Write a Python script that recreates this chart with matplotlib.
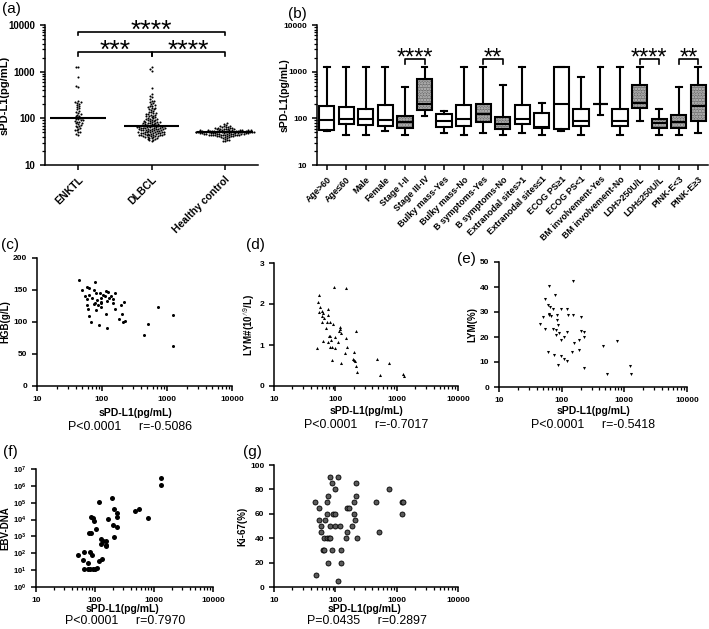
import numpy as np
import pandas as pd
import matplotlib
matplotlib.use("Agg")
import matplotlib.pyplot as plt
import matplotlib.transforms as mtransforms
from matplotlib.patches import PathPatch
from matplotlib.ticker import LogLocator, NullFormatter, FixedLocator, FixedFormatter
import seaborn as sns

plt.rcParams['font.family'] = ['Liberation Sans', 'DejaVu Sans']
plt.rcParams['mathtext.fontset'] = 'custom'
plt.rcParams['mathtext.rm'] = 'Liberation Sans'
plt.rcParams['mathtext.bf'] = 'Liberation Sans:bold'
plt.rcParams['axes.linewidth'] = 1.1
plt.rcParams['hatch.linewidth'] = 1.2

# ===== DATA =====
# (a) sPD-L1 by group
groups_a = ["ENKTL", "DLBCL", "Healthy control"]
enktl = [1280, 1230, 750, 500, 470, 235, 225, 220, 215, 205, 195, 185, 175, 165, 155, 145,
         140, 132, 125, 120, 115, 110, 106, 102, 100, 98, 95, 92, 90, 88, 85, 83, 80, 78,
         76, 73, 70, 68, 65, 62, 60, 57, 55, 52, 50, 47, 45]
dlbcl = [1250, 1150, 1050, 440, 330, 300, 280, 260, 240, 230, 220, 210, 200, 190, 185, 180,
         175, 170, 165, 160, 155, 150, 145, 140, 135, 130, 128, 125, 122, 120, 118, 115, 112,
         110, 108, 105, 103, 100, 98, 96, 95, 93, 92, 90, 88, 87, 86, 85, 84, 83, 82, 81, 80,
         79, 78, 77, 76, 75, 74, 73, 72, 71, 70, 70, 69, 68, 68, 67, 67, 66, 66, 65, 65, 64,
         64, 63, 63, 62, 62, 61, 61, 60, 60, 59, 59, 58, 58, 57, 57, 56, 56, 55, 55, 54, 54,
         53, 53, 52, 52, 51, 51, 50, 50, 50, 49, 49, 48, 48, 48, 47, 47, 46, 46, 46, 45, 45,
         44, 44, 44, 43, 43, 42, 42, 42, 41, 40, 40, 39, 38, 38, 37, 36, 36, 35, 34, 33]
healthy = [78, 75, 72, 70, 68, 67, 66, 65, 64, 63, 62, 62, 61, 60, 60, 59, 59, 58, 58, 57, 57,
           57, 56, 56, 56, 55, 55, 55, 55, 54, 54, 54, 54, 53, 53, 53, 53, 53, 52, 52, 52, 52,
           52, 51, 51, 51, 51, 51, 51, 50, 50, 50, 50, 50, 50, 50, 49, 49, 49, 49, 49, 49, 48,
           48, 48, 48, 48, 47, 47, 47, 47, 47, 46, 46, 46, 46, 45, 45, 45, 45, 44, 44, 44, 44,
           43, 43, 43, 42, 42, 42, 41, 41, 40, 40, 39, 38, 37, 36, 35, 34, 33, 32]

# (b) box plot summary per clinical feature
b_labels = ["Age>60", "Age≤60", "Male", "Female", "Stage I-II", "Stage III-IV",
            "Bulky mass-Yes", "Bulky mass-No", "B symptoms-Yes", "B symptoms-No",
            "Extranodal sites>1", "Extranodal sites≤1", "ECOG PS≥1", "ECOG PS<1",
            "BM involvement-Yes", "BM involvement-No", "LDH>250U/L", "LDH≤250U/L",
            "PINK-E<3", "PINK-E≥3"]
b_max = [1280, 1250, 1250, 1280, 470, 1280, 145, 1280, 1280, 530, 1280, 210, 1280, 750, 1280, 1250, 1280, 155, 470, 1280]
b_q3 = [180, 172, 160, 195, 115, 690, 122, 190, 200, 108, 195, 130, 1230, 155, 200, 155, 520, 97, 120, 530]
b_med = [94, 97, 96, 90, 83, 205, 87, 96, 125, 76, 96, 66, 205, 88, 200, 88, 210, 78, 84, 185]
b_q1 = [56, 74, 72, 70, 63, 150, 65, 70, 82, 60, 75, 62, 58, 70, 200, 70, 165, 62, 63, 86]
b_min = [54, 45, 45, 54, 45, 110, 48, 45, 48, 45, 48, 45, 54, 45, 118, 45, 87, 45, 45, 48]
b_shaded = [4, 5, 8, 9, 16, 17, 18, 19]
b_sig = [(4, 5, "****"), (8, 9, "**"), (16, 17, "****"), (18, 19, "**")]

# (c) HGB
c_x = [45, 50, 59, 64, 77, 76, 81, 92, 98, 105, 115, 125, 140, 160, 55, 62, 70, 85, 95, 110,
       130, 150, 58, 59, 60, 63, 68, 77, 81, 90, 97, 97, 117, 119, 148, 156, 182, 198, 205,
       210, 217, 223, 443, 510, 725, 1220, 1230, 75, 88, 120]
c_y = [166, 150, 155, 153, 162, 150, 145, 145, 138, 142, 148, 147, 140, 146, 140, 142, 138,
       135, 130, 140, 138, 130, 136, 126, 120, 110, 100, 130, 118, 95, 131, 123, 113, 91, 136,
       121, 105, 126, 113, 100, 131, 101, 80, 97, 123, 111, 62, 128, 127, 133]

# (d) LYM#
d_x = [53, 56, 55, 60, 64, 60, 66, 60, 73, 77, 75, 81, 92, 70, 82, 80, 85, 75, 62, 50, 82, 88,
       100, 100, 109, 113, 121, 125, 121, 150, 155, 146, 88, 124, 200, 195, 205, 213, 220, 220,
       228, 474, 537, 755, 1260, 1300, 55, 95, 150]
d_y = [2.04, 1.92, 1.8, 1.82, 1.78, 1.7, 1.65, 1.56, 1.56, 1.87, 1.72, 1.56, 1.52, 1.42, 1.22,
       1.22, 1.13, 1.07, 1.09, 0.92, 0.95, 0.95, 0.92, 1.2, 1.08, 1.35, 1.4, 1.29, 1.44, 1.16,
       0.96, 0.8, 0.63, 0.57, 0.84, 0.65, 0.63, 0.6, 1.34, 0.48, 0.33, 0.65, 0.28, 0.55, 0.3,
       0.24, 2.22, 2.42, 2.38]

# (e) LYM%
e_x = [45, 50, 55, 55, 60, 62, 62, 66, 68, 74, 72, 78, 80, 84, 84, 86, 80, 92, 98, 99, 107, 122,
       126, 122, 60, 75, 98, 110, 122, 87, 150, 155, 146, 186, 192, 205, 205, 225, 225, 230,
       460, 533, 753, 1230, 1260, 63, 151]
e_y = [25.3, 28, 35.3, 23.3, 33, 29.3, 28.7, 32, 28.3, 31.3, 23.3, 37, 23, 28.7, 26.7, 24.7,
       20.7, 21.6, 19, 31.3, 20, 31.3, 28.7, 22, 14, 13, 12.3, 11.3, 10.4, 8.7, 28.7, 17.7, 14,
       19, 14.7, 28, 22.4, 22, 20, 7.7, 16.3, 5.3, 18.3, 8.3, 5.3, 40.4, 42.4]

# (f) EBV-DNA
f_x = [51, 62, 65, 75, 83, 89, 65, 75, 83, 91, 100, 109, 78, 86, 86, 91, 98, 104, 116, 118, 126,
       126, 130, 135, 152, 152, 156, 166, 195, 213, 200, 213, 234, 234, 234, 485, 567, 787,
       1320, 1320]
f_y = [78, 39, 112, 25, 123, 78, 11, 11, 11, 11, 12, 14, 1510, 1660, 14800, 12000, 8700, 2600,
       117000, 35, 660, 380, 49, 525, 525, 300, 270, 10500, 186000, 40700, 4800, 870, 25700,
       14800, 3800, 33900, 40700, 12000, 2880000, 1150000]

# (g) Ki-67
g_x = [46, 49, 55, 55, 59, 59, 62, 65, 65, 68, 73, 74, 77, 74, 78, 83, 83, 89, 97, 83, 77, 89,
       93, 100, 100, 110, 110, 121, 125, 125, 147, 155, 155, 165, 190, 200, 202, 208, 220, 220,
       225, 466, 517, 750, 1240, 1240, 1260]
g_y = [70, 10, 65, 55, 50, 45, 30, 30, 40, 55, 60, 70, 75, 40, 40, 40, 90, 85, 80, 50, 20, 30,
       60, 60, 50, 90, 5, 50, 30, 20, 40, 45, 65, 65, 50, 60, 70, 55, 85, 75, 40, 70, 45, 80,
       70, 60, 70]

# ===== FIGURE =====
W, H = 709, 629
fig = plt.figure(figsize=(W / 100, H / 100), dpi=100)


def rect(l, t, r, b):
    return [l / W, 1 - b / H, (r - l) / W, (b - t) / H]


def ftext(x, y, s, **kw):
    fig.text(x / W, 1 - y / H, s, **kw)


def style(ax):
    ax.spines['top'].set_visible(False)
    ax.spines['right'].set_visible(False)
    ax.tick_params(which='major', direction='out', length=3.5, width=1.1)
    ax.tick_params(which='minor', direction='out', length=2, width=0.9)


def log_y(ax, lo, hi, fs):
    ax.set_yscale('log')
    ax.set_ylim(lo, hi)
    ax.yaxis.set_major_locator(FixedLocator([10, 100, 1000, 10000]))
    ax.yaxis.set_major_formatter(FixedFormatter(["10", "100", "1000", "10000"]))
    ax.yaxis.set_minor_locator(LogLocator(base=10, subs=np.arange(2, 10)))
    ax.yaxis.set_minor_formatter(NullFormatter())
    for t in ax.get_yticklabels():
        t.set_fontsize(fs)
        t.set_fontweight('bold')


def bracket(ax, x1, x2, y, ydrop, stars, fs, mid=None):
    xs = [x1, x1, x2, x2]
    ys = [ydrop, y, y, ydrop]
    ax.plot(xs, ys, color='k', lw=1.2, clip_on=False)
    tr = mtransforms.offset_copy(ax.transData, fig=fig, x=0, y=-6, units='dots')
    ax.text((x1 + x2) / 2, y, stars, ha='center', va='baseline', fontsize=fs,
            transform=tr, clip_on=False)


# ----- (a) -----
ax = fig.add_axes(rect(45, 25, 258, 165))
ax.set_yscale('log')
df_a = pd.DataFrame({
    "group": ["ENKTL"] * len(enktl) + ["DLBCL"] * len(dlbcl) + ["Healthy control"] * len(healthy),
    "val": enktl + dlbcl + healthy,
})
sns.swarmplot(data=df_a, x="group", y="val", order=groups_a, ax=ax, color="k", size=1.5,
              linewidth=0)
for i, vals in enumerate([enktl, dlbcl, healthy]):
    ax.hlines(np.median(vals), i - 0.38, i + 0.38, color='k', lw=1.5, zorder=4)
style(ax)
ax.set_xlim(-0.45, 2.45)
log_y(ax, 10, 10000, 7)
ax.set_xticks(range(3))
ax.set_xticklabels(groups_a, rotation=45, ha='right', rotation_mode='anchor',
                   fontsize=7.5, fontweight='bold')
ax.set_xlabel("")
ax.set_ylabel("sPD-L1(pg/mL)", fontsize=8, fontweight='bold')
ax.yaxis.set_label_coords(-35 / 213, 0.5)
bracket(ax, 0, 2, 7200, 6100, "****", 19)
bracket(ax, 0, 1, 2680, 2220, "***", 19)
bracket(ax, 1, 2, 2680, 2220, "****", 19)
ftext(2, 9, "(a)", fontsize=11, va='center')

# ----- (b) -----
ax = fig.add_axes(rect(317, 25, 708, 165))
stats = []
for i in range(len(b_labels)):
    stats.append(dict(med=b_med[i], q1=b_q1[i], q3=b_q3[i], whislo=b_min[i],
                      whishi=b_max[i], fliers=[]))
bp = ax.bxp(stats, positions=range(len(b_labels)), widths=0.78, capwidths=0.3,
            patch_artist=True, showfliers=False,
            boxprops=dict(facecolor='white', edgecolor='k', linewidth=1.5),
            medianprops=dict(color='k', linewidth=1.5),
            whiskerprops=dict(color='k', linewidth=1.5),
            capprops=dict(color='k', linewidth=1.5))
for i in b_shaded:
    box = bp['boxes'][i]
    z = box.get_zorder()
    ax.add_patch(PathPatch(box.get_path(), transform=box.get_transform(), facecolor='#707070',
                           lw=0, zorder=z - 0.3))
    ax.add_patch(PathPatch(box.get_path(), transform=box.get_transform(), facecolor='none',
                           edgecolor='#c8c8c8', hatch='......', lw=0, zorder=z - 0.2))
    box.set_facecolor('none')
style(ax)
ax.set_xlim(-0.5, 19.5)
log_y(ax, 10, 10000, 6)
ax.set_xticks(range(len(b_labels)))
ax.set_xticklabels(b_labels, rotation=45, ha='right', rotation_mode='anchor',
                   fontsize=6.4, fontweight='bold')
ax.set_ylabel("sPD-L1(pg/mL)", fontsize=7.5, fontweight='bold')
ax.yaxis.set_label_coords(-27 / 391, 0.5)
for i1, i2, s in b_sig:
    bracket(ax, i1, i2, 1870, 1460, s, 17)
ftext(288, 14, "(b)", fontsize=11, va='center')


# ----- scatter panels -----
def scatter_panel(l, t, r, b, xs, ys, ylabel, marker, ms, fc='k', label=None, lab_xy=None,
                  xl_xy=None, p_xy=None, ptxt=""):
    ax = fig.add_axes(rect(l, t, r, b))
    ax.plot(xs, ys, linestyle='none', marker=marker, markersize=ms, color='k',
            markerfacecolor=fc, markeredgewidth=0.6 if fc != 'k' else 0)
    style(ax)
    ax.set_xscale('log')
    ax.set_xlim(10, 10000)
    ax.xaxis.set_major_locator(FixedLocator([10, 100, 1000, 10000]))
    ax.xaxis.set_major_formatter(FixedFormatter(["10", "100", "1000", "10000"]))
    ax.xaxis.set_minor_locator(LogLocator(base=10, subs=np.arange(2, 10)))
    ax.xaxis.set_minor_formatter(NullFormatter())
    ax.tick_params(labelsize=6)
    for t_ in ax.get_xticklabels() + ax.get_yticklabels():
        t_.set_fontweight('bold')
    ax.set_ylabel(ylabel, fontsize=7, fontweight='bold', labelpad=2)
    ftext(lab_xy[0], lab_xy[1], label, fontsize=11, va='center')
    ftext(xl_xy[0], xl_xy[1], "sPD-L1(pg/mL)", fontsize=7.5, fontweight='bold',
          ha='center', va='center')
    ftext(p_xy[0], p_xy[1], ptxt, fontsize=8.9, ha='center', va='center')
    return ax


ax = scatter_panel(37, 258, 232, 386, c_x, c_y, "HGB(g/L)", 'o', 2.2, label="(c)",
                   lab_xy=(1, 245), xl_xy=(135, 413), p_xy=(130, 427),
                   ptxt="P<0.0001     r=-0.5086")
ax.set_ylim(0, 200)
ax.set_yticks([0, 50, 100, 150, 200])

ax = scatter_panel(274, 263, 458, 386, d_x, d_y, "LYM#(10$^{\\wedge9}$/L)", '^', 2.2,
                   label="(d)", lab_xy=(246, 245), xl_xy=(366, 411), p_xy=(366, 425),
                   ptxt="P<0.0001     r=-0.7017")
ax.set_ylim(0, 3)
ax.set_yticks([0, 1, 2, 3])

ax = scatter_panel(499, 262, 687, 387, e_x, e_y, "LYM(%)", 'v', 2.2, label="(e)",
                   lab_xy=(457, 259), xl_xy=(593, 411), p_xy=(593, 425),
                   ptxt="P<0.0001     r=-0.5418")
ax.set_ylim(0, 50)
ax.set_yticks([0, 10, 20, 30, 40, 50])

ax = scatter_panel(36, 469, 213, 587, f_x, f_y, "EBV-DNA", 'o', 3.6, label="(f)",
                   lab_xy=(3, 452), xl_xy=(122, 609), p_xy=(125, 621),
                   ptxt="P<0.0001     r=0.7970")
ax.set_yscale('log')
ax.set_ylim(1, 1e7)
ax.yaxis.set_major_locator(FixedLocator([10.0 ** k for k in range(8)]))
ax.yaxis.set_major_formatter(FixedFormatter([r"$\mathbf{10^{%d}}$" % k for k in range(8)]))
ax.yaxis.set_minor_locator(FixedLocator([]))
ax.tick_params(axis='y', labelsize=5.5)

ax = scatter_panel(274, 465, 458, 587, g_x, g_y, "Ki-67(%)", 'o', 3.6, fc='#5a5a5a',
                   label="(g)", lab_xy=(243, 452), xl_xy=(364, 609), p_xy=(367, 621),
                   ptxt="P=0.0435     r=0.2897")
ax.set_ylim(0, 100)
ax.set_yticks([0, 20, 40, 60, 80, 100])

fig.savefig("out.png", dpi=100)
